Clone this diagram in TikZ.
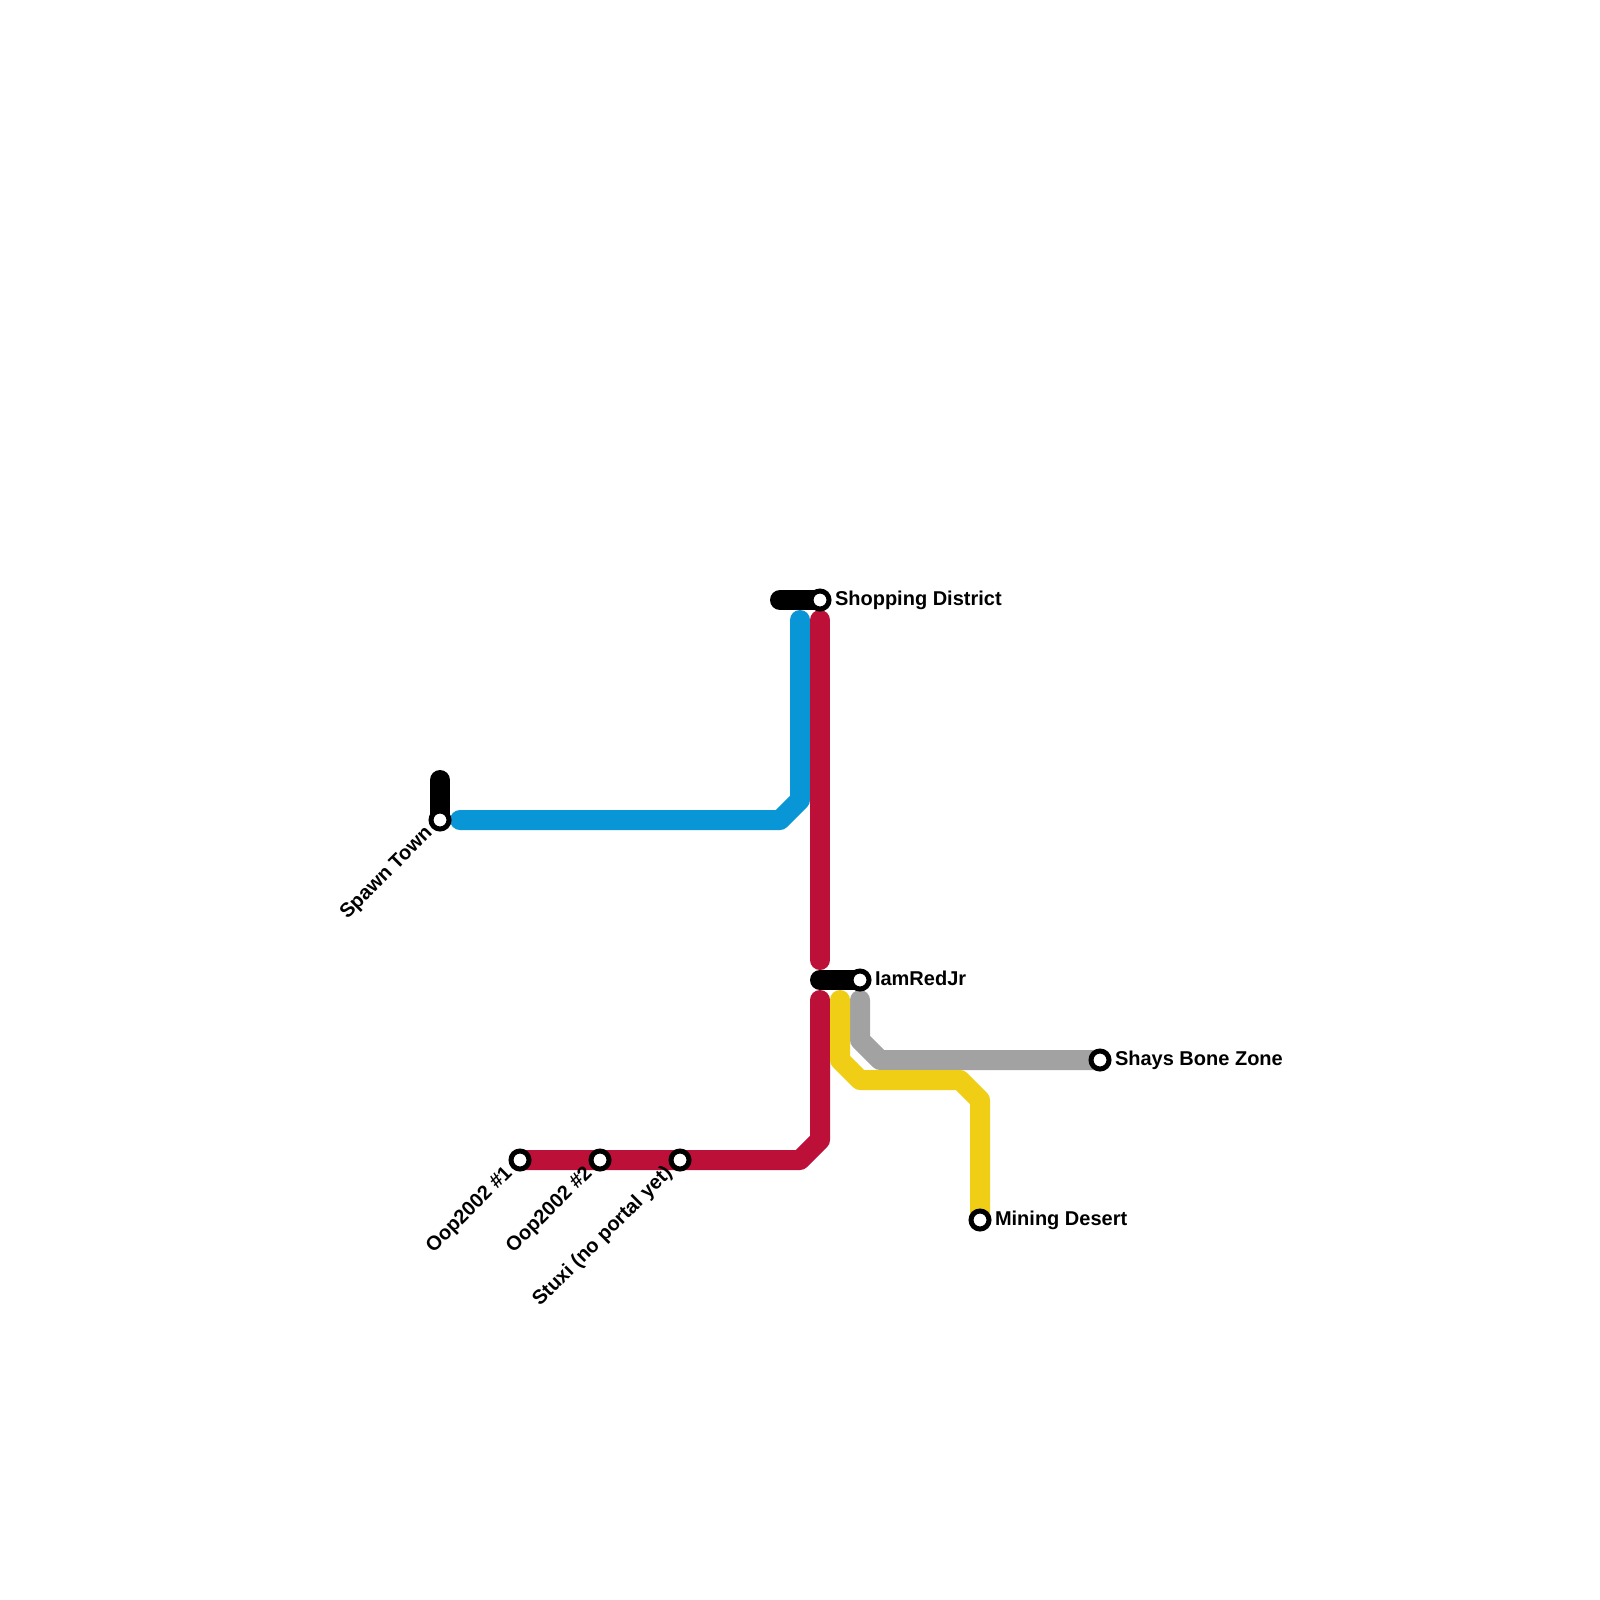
\documentclass[tikz,border=0pt]{standalone}
\usepackage{fontspec}
\setmainfont{Liberation Sans}
\usetikzlibrary{backgrounds}
\definecolor{lblue}{HTML}{0896D7}
\definecolor{lred}{HTML}{BD1038}
\definecolor{lyellow}{HTML}{F0CE15}
\definecolor{lgray}{HTML}{A2A2A2}
\tikzset{
  metro/.style={line width=10pt,line cap=round,line join=round},
  station/.style={circle,draw=black,fill=white,line width=2.5pt,minimum size=9pt,inner sep=0pt,outer sep=0pt},
  lbl/.style={font=\bfseries\fontsize{10pt}{12pt}\selectfont,text=black,inner sep=0pt,outer sep=0pt},
  lblright/.style={lbl,anchor=base west},
  lblleft/.style={lbl,anchor=base east,rotate=45}
}
\begin{document}
\begin{tikzpicture}[x=0.5pt,y=-0.5pt]
\useasboundingbox (0,0) rectangle (1600,1600);
% stations
\node[station] (shop) at (820,600) {};
\node[station] (spawn) at (440,820) {};
\node[station] (iam) at (860,980) {};
\node[station] (shays) at (1100,1060) {};
\node[station] (mining) at (980,1220) {};
\node[station] (oopa) at (520,1160) {};
\node[station] (oopb) at (600,1160) {};
\node[station] (stuxi) at (680,1160) {};
% free ends and bends
\coordinate (bkA) at (780,600);
\coordinate (bkB) at (440,780);
\coordinate (bkC) at (820,980);
\coordinate (blA) at (460,820);
\coordinate (blB) at (780,820);
\coordinate (blC) at (800,800);
\coordinate (blD) at (800,620);
\coordinate (rdA) at (820,620);
\coordinate (rdB) at (820,960);
\coordinate (rdC) at (820,1000);
\coordinate (rdD) at (820,1140);
\coordinate (rdE) at (800,1160);
\coordinate (ylA) at (840,1000);
\coordinate (ylB) at (840,1060);
\coordinate (ylC) at (860,1080);
\coordinate (ylD) at (960,1080);
\coordinate (ylE) at (980,1100);
\coordinate (gyA) at (860,1000);
\coordinate (gyB) at (860,1040);
\coordinate (gyC) at (880,1060);
\begin{scope}[on background layer]
\fill[white] (0,0) rectangle (1600,1600);
\draw[metro,lblue] (blA) -- (blB) -- (blC) -- (blD);
\draw[metro,lred] (rdA) -- (rdB);
\draw[metro,lred] (rdC) -- (rdD) -- (rdE) -- (stuxi.center) -- (oopb.center) -- (oopa.center);
\draw[metro,lgray] (gyA) -- (gyB) -- (gyC) -- (shays.center);
\draw[metro,lyellow] (ylA) -- (ylB) -- (ylC) -- (ylD) -- (ylE) -- (mining.center);
\draw[metro,black] (bkA) -- (shop.center);
\draw[metro,black] (bkB) -- (spawn.center);
\draw[metro,black] (bkC) -- (iam.center);
\end{scope}
% labels
\node[lblright] (lshop) at ([shift={(15,5)}]shop.center) {Shopping District};
\node[lblright] (liam) at ([shift={(15,5)}]iam.center) {IamRedJr};
\node[lblright] (lshays) at ([shift={(15,5)}]shays.center) {Shays Bone Zone};
\node[lblright] (lmining) at ([shift={(15,5)}]mining.center) {Mining Desert};
\node[lblleft] (lspawn) at ([shift={(-7.07,14.14)}]spawn.center) {Spawn Town};
\node[lblleft] (loopa) at ([shift={(-7.07,14.14)}]oopa.center) {Oop2002 \#1};
\node[lblleft] (loopb) at ([shift={(-7.07,14.14)}]oopb.center) {Oop2002 \#2};
\node[lblleft] (lstuxi) at ([shift={(-7.07,14.14)}]stuxi.center) {Stuxi (no portal yet)};
\end{tikzpicture}
\end{document}
